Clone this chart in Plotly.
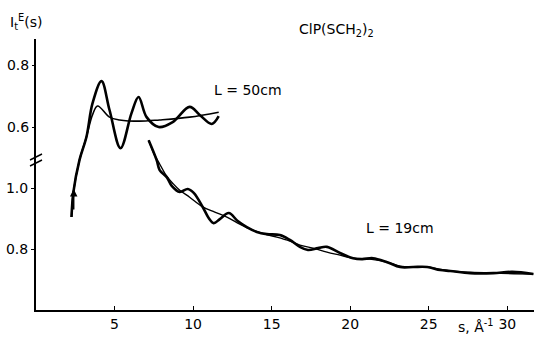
import plotly.graph_objects as go

# L = 50 cm (upper scale)
x50_exp = [2.26, 2.38, 2.77, 3.21, 3.60, 4.17, 4.68, 5.38, 6.08, 6.53, 7.04, 7.81, 8.70, 9.78, 10.42, 11.19, 11.63]
y50_exp = [0.310, 0.390, 0.494, 0.568, 0.677, 0.748, 0.655, 0.532, 0.645, 0.697, 0.632, 0.600, 0.616, 0.665, 0.639, 0.610, 0.635]
x50_th = [2.26, 2.38, 2.77, 3.21, 3.60, 3.92, 4.68, 5.32, 6.59, 7.87, 9.78, 11.63]
y50_th = [0.310, 0.390, 0.494, 0.568, 0.640, 0.668, 0.632, 0.623, 0.619, 0.623, 0.632, 0.648]

# L = 19 cm (lower scale)
x19_exp = [7.17, 7.68, 7.87, 8.32, 8.64, 9.15, 9.66, 10.04, 10.61, 10.99, 11.31, 11.70, 12.27, 12.84, 13.42,
           14.06, 14.69, 15.52, 16.16, 16.80, 17.31, 17.95, 18.52, 19.35, 20.18, 20.76, 21.45, 22.35, 23.18,
           24.0, 24.9, 25.73, 26.37, 27.64, 29.11, 30.32, 31.66]
y19_exp = [1.157, 1.092, 1.059, 1.036, 1.007, 0.987, 0.997, 0.984, 0.938, 0.902, 0.885, 0.898, 0.918, 0.892, 0.872,
           0.856, 0.849, 0.846, 0.830, 0.807, 0.797, 0.803, 0.807, 0.787, 0.770, 0.767, 0.770, 0.757, 0.741,
           0.741, 0.741, 0.731, 0.728, 0.721, 0.721, 0.725, 0.718]
x19_th = [7.17, 7.55, 7.87, 8.32, 8.70, 9.15, 9.78, 10.61, 11.38, 12.15, 12.97, 13.80, 14.57, 15.33, 16.16,
          16.80, 17.63, 18.52, 19.35, 20.18, 21.26, 22.35, 23.18, 24.9, 26.37, 29.11, 31.66]
y19_th = [1.157, 1.108, 1.079, 1.039, 1.016, 0.993, 0.970, 0.938, 0.921, 0.905, 0.882, 0.862, 0.849, 0.839, 0.826,
          0.813, 0.803, 0.790, 0.780, 0.770, 0.767, 0.757, 0.744, 0.741, 0.728, 0.721, 0.718]

x_ticks = [5, 10, 15, 20, 25, 30]
y_low_ticks = [0.8, 1.0]
y_low_text = ["0.8", "1.0"]
y_up_ticks = [0.6, 0.8]
y_up_text = ["0.6", "0.8"]

FONT = "DejaVu Sans"
L, T, B = 36, 39, 310
PW, PH = 534 - L, B - T

fig = go.Figure()
fig.add_trace(go.Scatter(x=x50_exp, y=y50_exp, yaxis="y2", mode="lines",
                         line=dict(color="black", width=2.6, shape="spline")))
fig.add_trace(go.Scatter(x=x50_th, y=y50_th, yaxis="y2", mode="lines",
                         line=dict(color="black", width=1.6, shape="spline")))
fig.add_trace(go.Scatter(x=x19_exp, y=y19_exp, yaxis="y", mode="lines",
                         line=dict(color="black", width=2.6, shape="spline")))
fig.add_trace(go.Scatter(x=x19_th, y=y19_th, yaxis="y", mode="lines",
                         line=dict(color="black", width=1.4, shape="spline")))

fig.update_layout(
    width=534, height=338,
    margin=dict(l=L, r=0, t=T, b=338 - B),
    paper_bgcolor="white", plot_bgcolor="white",
    showlegend=False,
    font=dict(family=FONT, color="black", size=14),
    xaxis=dict(range=[0, 31.7], tickvals=x_ticks, showgrid=False, zeroline=False,
               showline=True, linecolor="black", linewidth=2, ticks="inside", ticklen=4,
               tickcolor="black", tickfont=dict(size=14)),
    yaxis=dict(range=[0.6, 1.489], tickvals=y_low_ticks, ticktext=y_low_text, showgrid=False,
               zeroline=False, showline=True, linecolor="black", linewidth=2, ticks="outside",
               ticklen=3, tickcolor="black", tickfont=dict(size=14)),
    yaxis2=dict(range=[0.010, 0.884], overlaying="y", side="left", tickvals=y_up_ticks,
                ticktext=y_up_text, showgrid=False, zeroline=False, showline=False,
                ticks="outside", ticklen=3, tickcolor="black", tickfont=dict(size=14)),
)

anns = [
    dict(text="ClP(SCH<sub>2</sub>)<sub>2</sub>", x=336, y=30),
    dict(text="L = 50cm", x=248, y=90),
    dict(text="L = 19cm", x=400, y=228),
    dict(text="I<sub>t</sub><sup>E</sup>(s)", x=26, y=22),
    dict(text="s, Å<sup>-1</sup>", x=476, y=326),
]
for a in anns:
    fig.add_annotation(text=a["text"], x=(a["x"] - L) / PW, y=(B - a["y"]) / PH, xref="paper", yref="paper",
                       xanchor="center", yanchor="middle",
                       showarrow=False, font=dict(family=FONT, size=14, color="black"))

# axis break marker
for dy in (-3, 3):
    fig.add_shape(type="line", xref="paper", yref="paper",
                  x0=-6 / PW, x1=6 / PW, y0=(B - 160 + dy - 3) / PH, y1=(B - 160 + dy + 3) / PH,
                  line=dict(color="black", width=1.5))

# arrow on rising branch
fig.add_annotation(x=2.40, y=0.40, xref="x", yref="y2", ax=0, ay=22, showarrow=True,
                   arrowhead=2, arrowsize=1, arrowwidth=1.5, arrowcolor="black", text="")

fig.write_html("out.html", post_script="document.body.style.margin='0';",
               config={"displayModeBar": False})
